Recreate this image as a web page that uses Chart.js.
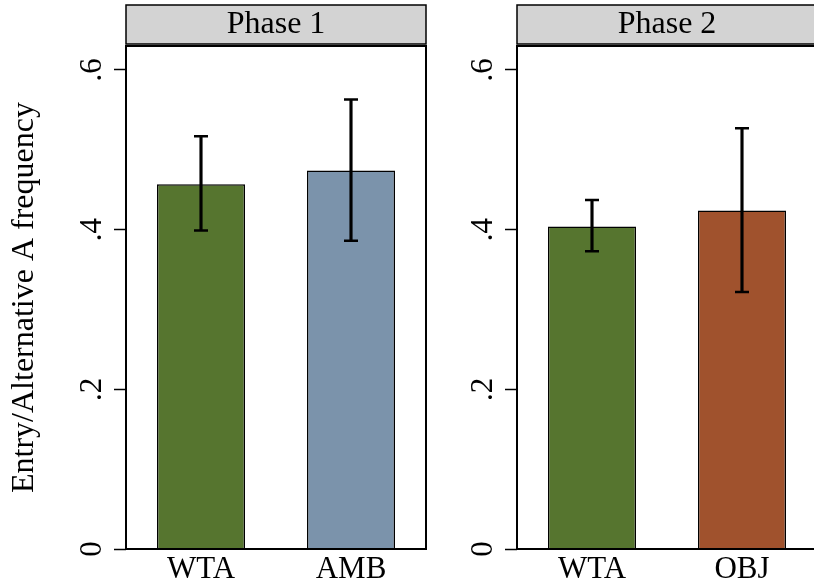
<!DOCTYPE html>
<html>
<head>
<meta charset="utf-8">
<script src="https://cdn.jsdelivr.net/npm/chart.js@4.4.1/dist/chart.umd.min.js"></script>
<style>
  html, body { margin: 0; padding: 0; background: #fff; overflow: hidden; }
  #wrap { position: relative; width: 814px; height: 579px; overflow: hidden; }
  canvas { position: absolute; top: 0; }
  #phase1 { left: 0; width: 440px; height: 579px; }
  #phase2 { left: 391px; width: 440px; height: 579px; }
</style>
</head>
<body>
<div id="wrap">
  <canvas id="phase1" width="440" height="579"></canvas>
  <canvas id="phase2" width="440" height="579"></canvas>
</div>
<script>
// Data
const yTicks = [0, 0.2, 0.4, 0.6];

const phase1Labels = ['WTA', 'AMB'];
const phase1Means = [0.457, 0.474];
const phase1Lo = [0.399, 0.386];
const phase1Hi = [0.517, 0.563];

const phase2Labels = ['WTA', 'OBJ'];
const phase2Means = [0.404, 0.424];
const phase2Lo = [0.373, 0.322];
const phase2Hi = [0.437, 0.527];

const phase1Colors = ['#56752f', '#7b93ab'];
const phase2Colors = ['#56752f', '#a0522d'];

const FONT = 'Liberation Serif';

// Frame round the plot and grey strip with the panel title
const panelFrame = {
  id: 'panelFrame',
  afterDraw(chart, args, opts) {
    const { ctx, chartArea: a } = chart;
    ctx.save();
    ctx.strokeStyle = '#000';
    ctx.lineWidth = 2;
    ctx.strokeRect(a.left, a.top, a.right - a.left, a.bottom - a.top);

    ctx.fillStyle = '#d3d3d3';
    ctx.fillRect(a.left, 5, a.right - a.left, 39);
    ctx.lineWidth = 1.5;
    ctx.strokeRect(a.left, 5, a.right - a.left, 39);

    ctx.fillStyle = '#000';
    ctx.font = '32px "' + FONT + '"';
    ctx.textAlign = 'center';
    ctx.textBaseline = 'middle';
    ctx.fillText(opts.title, (a.left + a.right) / 2, 25);
    ctx.restore();
  }
};

function makePanel(id, title, labels, means, lo, hi, colors, showYTitle) {
  const ctx = document.getElementById(id).getContext('2d');
  return new Chart(ctx, {
    data: {
      labels: labels,
      datasets: [
        {
          type: 'line',
          data: hi,
          showLine: false,
          pointStyle: 'line',
          pointRadius: 7,
          borderColor: '#000',
          borderWidth: 2.5,
          order: 1
        },
        {
          type: 'line',
          data: lo,
          showLine: false,
          pointStyle: 'line',
          pointRadius: 7,
          borderColor: '#000',
          borderWidth: 2.5,
          order: 1
        },
        {
          type: 'bar',
          data: lo.map((l, i) => [l, hi[i]]),
          backgroundColor: '#000',
          barThickness: 2.5,
          grouped: false,
          order: 2
        },
        {
          type: 'bar',
          data: means,
          backgroundColor: colors,
          borderColor: '#000',
          borderWidth: 1.5,
          grouped: false,
          categoryPercentage: 1,
          barPercentage: 0.587,
          order: 3
        }
      ]
    },
    options: {
      responsive: false,
      animation: false,
      events: [],
      layout: { padding: { top: 46, right: 14, left: 0, bottom: 0 } },
      plugins: {
        legend: { display: false },
        tooltip: { enabled: false },
        panelFrame: { title: title }
      },
      scales: {
        x: {
          afterFit: s => { s.height = 30; },
          grid: { display: false, drawTicks: false },
          border: { display: false },
          ticks: { color: '#000', padding: 2, maxRotation: 0, font: { family: FONT, size: 31 } }
        },
        y: {
          min: 0,
          max: 0.63,
          afterBuildTicks: s => { s.ticks = yTicks.map(v => ({ value: v })); },
          afterFit: s => { s.width = 126; },
          grid: { drawOnChartArea: false, drawTicks: true, tickLength: 12, tickColor: '#000', tickWidth: 1.5 },
          border: { display: false },
          ticks: {
            minRotation: 90,
            maxRotation: 90,
            crossAlign: 'center',
            padding: 10,
            color: '#000',
            font: { family: FONT, size: 31 },
            callback: v => v === 0 ? '0' : String(v).replace(/^0/, '')
          },
          title: {
            display: showYTitle,
            text: 'Entry/Alternative A frequency',
            color: '#000',
            font: { family: FONT, size: 32 },
            padding: { top: 5, bottom: 0 }
          }
        }
      }
    },
    plugins: [panelFrame]
  });
}

makePanel('phase1', 'Phase 1', phase1Labels, phase1Means, phase1Lo, phase1Hi, phase1Colors, true);
makePanel('phase2', 'Phase 2', phase2Labels, phase2Means, phase2Lo, phase2Hi, phase2Colors, false);
</script>
</body>
</html>
